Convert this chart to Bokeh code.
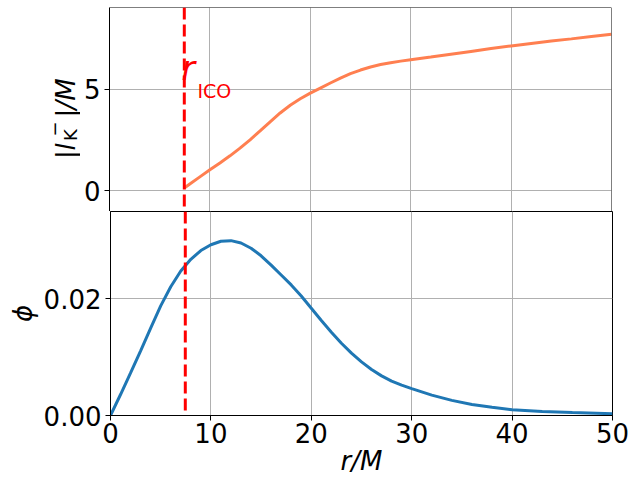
import math
from bokeh.plotting import figure
from bokeh.layouts import column, row
from bokeh.models import Range1d, FixedTicker, PrintfTickFormatter, Span, Label, ColumnDataSource
from bokeh.embed import file_html
from bokeh.resources import INLINE

# ---- data ----
r_isco = 7.45

r_phi = [0, 1, 2, 3, 4, 5, 6, 7, 8, 9, 10, 11, 12, 13, 14, 15, 16, 17, 18, 19, 20,
         21, 22, 23, 24, 25, 26, 27, 28, 29, 30, 32, 34, 36, 38, 40, 43, 46, 50]
phi = [0.0, 0.0036, 0.0073, 0.0111, 0.0150, 0.0188, 0.0221, 0.0248, 0.0268, 0.0283, 0.0293,
       0.0299, 0.0300, 0.0296, 0.0287, 0.0274, 0.0258, 0.0241, 0.0224, 0.0205, 0.0184,
       0.0163, 0.0143, 0.0124, 0.0107, 0.0092, 0.0079, 0.0068, 0.0059, 0.0052, 0.0046,
       0.0035, 0.0026, 0.0019, 0.0014, 0.0010, 0.0007, 0.0005, 0.0003]

r_l = [7.45, 8, 9, 10, 11, 12, 13, 14, 15, 16, 17, 18, 19, 20, 21, 22, 23, 24, 25, 26,
       27, 28, 29, 30, 32, 34, 36, 38, 40, 42, 44, 46, 48, 50]
l_abs = [0.13, 0.33, 0.68, 1.03, 1.37, 1.72, 2.10, 2.51, 2.95, 3.40, 3.84, 4.22, 4.54, 4.82,
         5.07, 5.32, 5.56, 5.78, 5.96, 6.11, 6.23, 6.32, 6.40, 6.47, 6.60, 6.74, 6.88, 7.02,
         7.15, 7.27, 7.39, 7.50, 7.62, 7.73]

x_ticks = [0, 10, 20, 30, 40, 50]
top_y_ticks = [0, 5]
bot_y_ticks = [0.0, 0.02]

FONT = "DejaVu Sans"
GRID = "#b0b0b0"
TOP_Y = (-1.03, 9.05)

xr = Range1d(0, 50)


def style(p):
    p.background_fill_color = "white"
    p.border_fill_color = "white"
    p.grid.grid_line_color = GRID
    p.grid.grid_line_width = 1
    for ax in p.axis:
        ax.axis_line_color = "black"
        ax.major_tick_line_color = "black"
        ax.major_tick_out = 5
        ax.major_tick_in = 0
        ax.minor_tick_line_color = None
        ax.major_label_text_font = FONT
        ax.major_label_text_font_size = "26px"
        ax.major_label_text_color = "black"


def label_fig(w, y0, y1):
    f = figure(frame_width=w, frame_height=y1 - y0, x_range=Range1d(0, w),
               y_range=Range1d(y1, y0), x_axis_type=None, y_axis_type=None,
               output_backend="svg", toolbar_location=None,
               min_border_left=0, min_border_right=0, min_border_top=0, min_border_bottom=0)
    f.outline_line_color = None
    f.background_fill_color = "white"
    f.border_fill_color = "white"
    return f


ang = math.pi / 2

# ---------- top panel ----------
lab_top = label_fig(80, 0, 211)


def ylab(x, y, t, size, style_="normal"):
    lab_top.add_layout(Label(x=x, y=y, text=t, angle=ang, text_font=FONT, text_font_style=style_,
                             text_font_size=size, text_color="black",
                             text_align="left", text_baseline="alphabetic"))


ylab(65.5, 151.5, "|", "26px")
ylab(65.5, 143, "l", "26px", "italic")
ylab(69.5, 133.5, "K", "18px")
ylab(53.5, 129, "\u2212", "18px")
ylab(65.5, 110, "|", "26px")
ylab(65.5, 102, "/M", "26px", "italic")

p_top = figure(frame_width=502, frame_height=204, x_range=xr, y_range=Range1d(*TOP_Y),
               output_backend="svg", toolbar_location=None,
               min_border_left=28, min_border_right=20, min_border_top=7, min_border_bottom=0)
style(p_top)
p_top.outline_line_color = None
p_top.xaxis.ticker = FixedTicker(ticks=x_ticks)
p_top.xaxis.visible = False
p_top.yaxis.ticker = FixedTicker(ticks=top_y_ticks)
p_top.yaxis.major_label_standoff = 4
# top and right spines
p_top.add_layout(Span(location=xr.end, dimension="height", line_color="black", line_width=1))
p_top.add_layout(Span(location=TOP_Y[1], dimension="width", line_color="black", line_width=1))

p_top.line(x="r", y="l", source=ColumnDataSource(dict(r=r_l, l=l_abs)),
           line_color="#FF7F50", line_width=3)
p_top.add_layout(Span(location=r_isco, dimension="height", line_color="red",
                      line_width=3, line_dash="12 5"))

# r_ISCO annotation
p_top.add_layout(Label(x=7.17, y=6.05, text="r", text_font=FONT, text_font_style="italic",
                       text_font_size="33px", text_color="red", text_baseline="alphabetic"))
p_top.add_layout(Label(x=8.76, y=4.93, text="ICO", text_font=FONT,
                       text_font_size="19px", text_color="red", text_baseline="alphabetic"))

# ---------- bottom panel ----------
lab_bot = label_fig(40, 211, 415)
lab_bot.add_layout(Label(x=22.5, y=313, text="\u03d5", angle=ang, text_font=FONT,
                         text_font_style="italic", text_font_size="26px", text_color="black",
                         text_align="center", text_baseline="alphabetic"))

p_bot = figure(frame_width=502, frame_height=204, x_range=xr, y_range=Range1d(0, 0.035),
               output_backend="svg", toolbar_location=None,
               min_border_left=68, min_border_right=20, min_border_top=0, min_border_bottom=66)
style(p_bot)
p_bot.outline_line_color = "black"
p_bot.outline_line_width = 1
p_bot.xaxis.ticker = FixedTicker(ticks=x_ticks)
p_bot.xaxis.major_label_standoff = 2
p_bot.xaxis.axis_label = "r/M"
p_bot.xaxis.axis_label_text_font = FONT
p_bot.xaxis.axis_label_text_font_style = "italic"
p_bot.xaxis.axis_label_text_font_size = "26px"
p_bot.xaxis.axis_label_text_color = "black"
p_bot.xaxis.axis_label_standoff = 0
p_bot.yaxis.ticker = FixedTicker(ticks=bot_y_ticks)
p_bot.yaxis.formatter = PrintfTickFormatter(format="%.2f")
p_bot.yaxis.major_label_standoff = 4

p_bot.line(x="r", y="phi", source=ColumnDataSource(dict(r=r_phi, phi=phi)),
           line_color="#1f77b4", line_width=3)
p_bot.add_layout(Span(location=r_isco, dimension="height", line_color="red",
                      line_width=3, line_dash="12 5"))

layout = column(row(lab_top, p_top, spacing=0), row(lab_bot, p_bot, spacing=0), spacing=0)
open("out.html", "w").write(file_html(layout, INLINE))
